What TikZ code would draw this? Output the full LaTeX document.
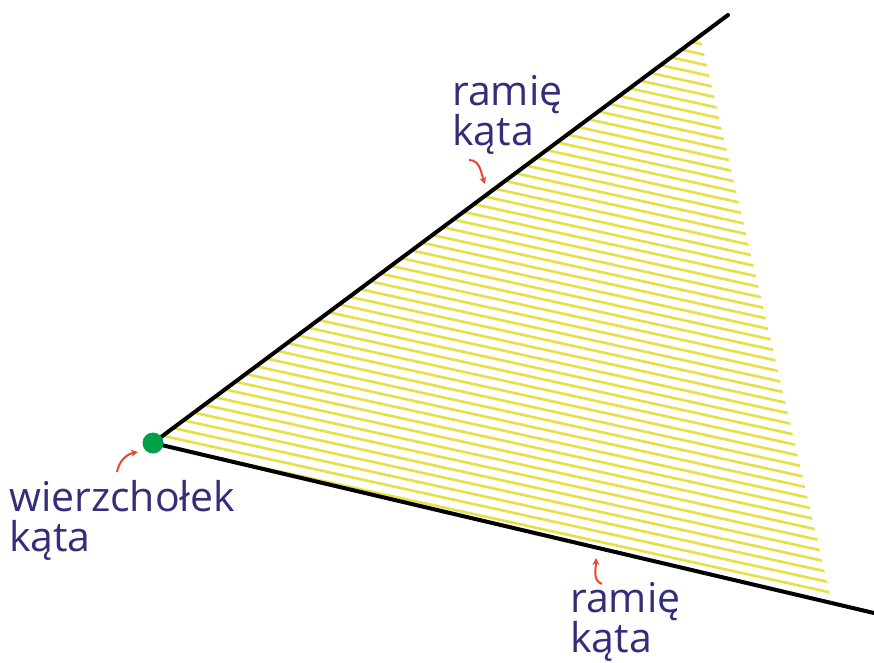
\documentclass[tikz,border=0pt]{standalone}
\usepackage{fontspec}
\setmainfont{Open Sans}
\usetikzlibrary{arrows.meta}
\definecolor{labelblue}{RGB}{52,46,122}
\definecolor{arrowred}{RGB}{226,72,52}
\definecolor{hatchyellow}{RGB}{232,222,70}
\definecolor{dotgreen}{RGB}{0,160,70}
\begin{document}
\begin{tikzpicture}[x=1pt,y=-1pt,
  lbl/.style={font=\fontsize{41}{40}\selectfont,text=labelblue,align=left,inner sep=0pt,anchor=base west},
  ray/.style={line width=4pt,line cap=round},
  hatch/.style={hatchyellow,line width=2.6pt},
  pointer/.style={arrowred,line width=2pt,-{Stealth[length=7pt,width=7pt]}}]
\useasboundingbox (0,0) rectangle (874,662);
\coordinate (V) at (153,443);
\coordinate (A) at (728,15);
\coordinate (B) at (874,613);
\coordinate (T) at (700,36);
\coordinate (C) at (832,603);
% stripes inside the angle
\begin{scope}
\clip (V) -- (T) -- (C) -- cycle;
\foreach \c in {-120,-110,...,440}
  \draw[hatch] (0,\c) -- (874,\c+192);
\end{scope}
\draw[ray] (V) -- (A);
\draw[ray] (V) -- (B);
\fill[dotgreen] (V) circle (10.5);
% labels
\node[lbl] (armtop) at (452,145) {ramię\\kąta};
\node[lbl] (vert) at (9,551) {wierzchołek\\kąta};
\node[lbl] (armbot) at (570,652) {ramię\\kąta};
% pointers
\coordinate (p1s) at (469,160);
\coordinate (p1e) at (485,184);
\coordinate (p2s) at (117,472);
\coordinate (p2e) at (138,452);
\coordinate (p3s) at (602,584);
\coordinate (p3e) at (596,558);
\draw[pointer] (p1s) to[out=0,in=110] (p1e);
\draw[pointer] (p2s) to[out=80,in=-170] (p2e);
\draw[pointer] (p3s) to[out=160,in=-90] (p3e);
\end{tikzpicture}
\end{document}
